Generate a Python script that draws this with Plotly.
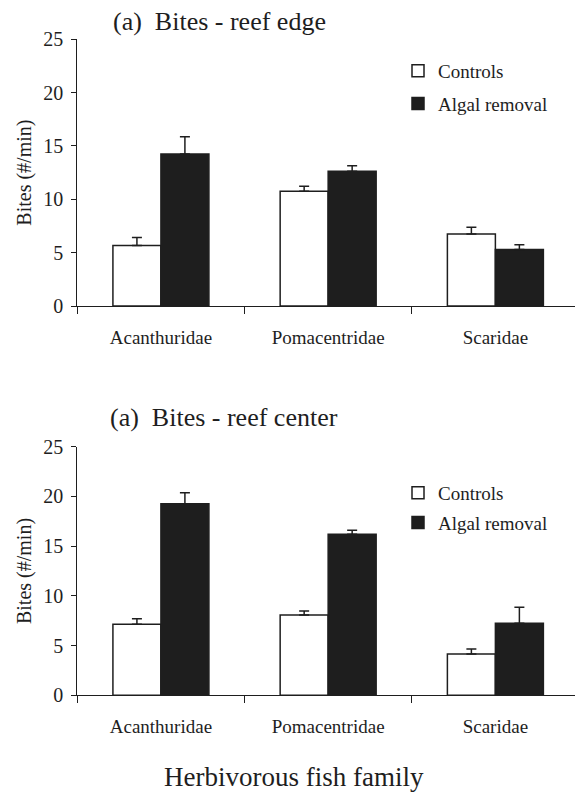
import plotly.graph_objects as go

families = ["Acanthuridae", "Pomacentridae", "Scaridae"]

edge_controls = [5.67, 10.75, 6.76]
edge_controls_err = [0.75, 0.47, 0.63]
edge_removal = [14.25, 12.62, 5.30]
edge_removal_err = [1.62, 0.53, 0.44]

center_controls = [7.14, 8.08, 4.16]
center_controls_err = [0.57, 0.40, 0.50]
center_removal = [19.27, 16.19, 7.24]
center_removal_err = [1.10, 0.40, 1.61]

FONT = "Liberation Serif"
INK = "#1e1e1e"
OFF = 8  # page body margin
W, H = 583 - OFF, 795 - OFF

def px(x):
    return (x - OFF) / W

def py(y):
    return 1 - (y - OFF) / H

fig = go.Figure()

def add_pair(ctrl, ctrl_err, rem, rem_err, xa, ya, leg):
    zeros = [0] * len(ctrl)
    fig.add_trace(go.Bar(
        x=families, y=ctrl, name="Controls", xaxis=xa, yaxis=ya, legend=leg,
        legendgroup=leg + "c",
        marker=dict(color="white", line=dict(color=INK, width=1.5)),
        error_y=dict(type="data", symmetric=False, array=ctrl_err, arrayminus=zeros,
                     color=INK, thickness=1.5, width=5),
    ))
    fig.add_trace(go.Bar(
        x=families, y=rem, name="Algal removal", xaxis=xa, yaxis=ya, legend=leg,
        legendgroup=leg + "r",
        marker=dict(color=INK, line=dict(color=INK, width=1.5)),
        error_y=dict(type="data", symmetric=False, array=rem_err, arrayminus=zeros,
                     color=INK, thickness=1.5, width=5),
    ))

add_pair(edge_controls, edge_controls_err, edge_removal, edge_removal_err, "x", "y", "legend")
add_pair(center_controls, center_controls_err, center_removal, center_removal_err, "x2", "y2", "legend2")

xdom = [px(77.3), px(579)]
xcommon = dict(
    domain=xdom, range=[-0.5, 2.5], showline=True, linecolor=INK, linewidth=1.3,
    ticks="outside", tickson="boundaries", ticklen=7, tickcolor=INK, tickwidth=1.3,
    showgrid=False, zeroline=False, automargin=False, ticklabelstandoff=14,
    tickfont=dict(family=FONT, size=19, color=INK),
)
ycommon = dict(
    range=[0, 25], dtick=5, showline=True, linecolor=INK, linewidth=1.3,
    ticks="outside", ticklen=5, tickcolor=INK, tickwidth=1.3, showgrid=False,
    zeroline=False, automargin=False,
    tickfont=dict(family=FONT, size=20, color=INK), ticklabelstandoff=4,
    title=dict(text="Bites (#/min)", font=dict(family=FONT, size=20, color=INK), standoff=6),
)

fig.update_layout(
    width=W, height=H,
    margin=dict(l=0, r=0, t=0, b=0),
    paper_bgcolor="white", plot_bgcolor="white",
    barmode="group", bargap=0.426, bargroupgap=0,
    font=dict(family=FONT, color=INK),
    xaxis=dict(xcommon, anchor="y"),
    yaxis=dict(ycommon, domain=[py(306), py(39.3)], anchor="x"),
    xaxis2=dict(xcommon, anchor="y2"),
    yaxis2=dict(ycommon, domain=[py(695.3), py(446.7)], anchor="x2"),
    legend=dict(x=px(398), y=py(52), xanchor="left", yanchor="top",
                font=dict(family=FONT, size=19, color=INK), bgcolor="rgba(0,0,0,0)",
                tracegroupgap=5, itemwidth=30),
    legend2=dict(x=px(398), y=py(474), xanchor="left", yanchor="top",
                 font=dict(family=FONT, size=19, color=INK), bgcolor="rgba(0,0,0,0)",
                 tracegroupgap=2, itemwidth=30),
    showlegend=True,
    annotations=[
        dict(text="(a)\u00a0\u00a0Bites - reef edge", x=px(111), y=py(22), xref="paper", yref="paper",
             xanchor="left", yanchor="middle", showarrow=False,
             font=dict(family=FONT, size=26, color=INK)),
        dict(text="(a)\u00a0\u00a0Bites - reef center", x=px(108), y=py(417), xref="paper", yref="paper",
             xanchor="left", yanchor="middle", showarrow=False,
             font=dict(family=FONT, size=26, color=INK)),
        dict(text="Herbivorous fish family", x=px(294), y=py(777), xref="paper", yref="paper",
             xanchor="center", yanchor="middle", showarrow=False,
             font=dict(family=FONT, size=27, color=INK)),
    ],
)

fig.write_html("out.html")
